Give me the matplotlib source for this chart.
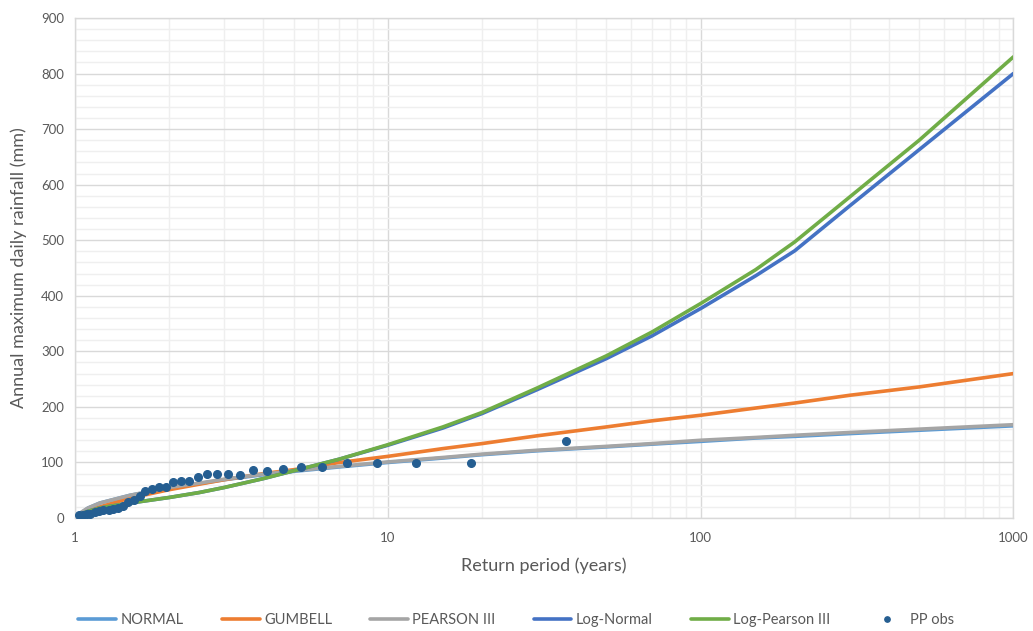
import matplotlib
matplotlib.use('Agg')
import matplotlib.pyplot as plt
from matplotlib.ticker import FixedLocator, FuncFormatter, MultipleLocator
import numpy as np

plt.rcParams['font.family'] = ['Lato', 'DejaVu Sans']

# Return periods (years) where the fitted distributions are evaluated
t_fit = [1.03, 1.05, 1.1, 1.2, 1.5, 2, 2.5, 3, 4, 5, 7, 10, 15, 20, 30,
         50, 70, 100, 150, 200, 300, 500, 1000]

normal = [2, 10, 18, 27, 41, 54, 62, 69, 78, 84, 92, 100, 108, 114, 121,
          128, 133, 138, 144, 147, 152, 158, 166]
gumbell = [None, 4, 13, 20, 36, 51, 61, 69, 80, 87, 100, 111, 125, 134,
           148, 164, 175, 185, 198, 207, 221, 236, 260]
pearson3 = [3, 11, 18, 27, 41, 55, 63, 70, 79, 85, 93, 101, 109, 115, 122,
            129, 134, 140, 145, 149, 154, 160, 168]
log_normal = [5, 8, 12, 18, 27, 37, 46, 55, 71, 85, 106, 131, 162, 188, 231,
              287, 328, 377, 436, 481, 562, 663, 800]
log_pearson3 = [5, 8, 12, 18, 27, 37, 46, 55, 71, 85, 106, 132, 164, 190,
                234, 292, 335, 386, 447, 497, 578, 680, 830]

# Observed annual maxima with their plotting-position return periods
t_obs = [37.0, 18.5, 12.33, 9.25, 7.4, 6.17, 5.29, 4.63, 4.11, 3.7,
         3.36, 3.08, 2.85, 2.64, 2.47, 2.31, 2.18, 2.06, 1.95, 1.85,
         1.76, 1.68, 1.61, 1.54, 1.48, 1.42, 1.37, 1.32, 1.28, 1.23,
         1.19, 1.16, 1.12, 1.09, 1.06, 1.03]
pp_obs = [139, 99, 99, 99, 99, 92, 92, 88, 85, 86,
          77, 79, 79, 79, 74, 67, 67, 65, 55, 55,
          52, 49, 40, 33, 28, 22, 18, 16, 15, 14,
          12, 10, 8, 7, 6, 5]

series = [
    ('NORMAL', normal, '#5B9BD5'),
    ('GUMBELL', gumbell, '#ED7D31'),
    ('PEARSON III', pearson3, '#A5A5A5'),
    ('Log-Normal', log_normal, '#4472C4'),
    ('Log-Pearson III', log_pearson3, '#70AD47'),
]

text_color = '#595959'

fig = plt.figure(figsize=(10.33, 6.31), dpi=100)
ax = fig.add_axes([0.0726, 0.179, 0.9084, 0.7925])

for label, values, color in series:
    vals = np.array([np.nan if v is None else v for v in values], dtype=float)
    ax.plot(t_fit, vals, color=color, linewidth=2.6, label=label,
            solid_capstyle='round', solid_joinstyle='round', zorder=3)

ax.plot(t_obs, pp_obs, linestyle='none', marker='o', markersize=5.5,
        color='#255E91', label='PP obs', zorder=4)

ax.set_xscale('log')
ax.set_xlim(1, 1000)
ax.set_ylim(0, 900)

ax.xaxis.set_major_locator(FixedLocator([1, 10, 100, 1000]))
ax.xaxis.set_major_formatter(FuncFormatter(lambda v, p: '%d' % v))
ax.xaxis.set_minor_locator(FixedLocator(
    [m * 10 ** d for d in range(3) for m in range(2, 10)]))
ax.xaxis.set_minor_formatter(FuncFormatter(lambda v, p: ''))
ax.yaxis.set_major_locator(MultipleLocator(100))
ax.yaxis.set_minor_locator(MultipleLocator(20))

ax.grid(which='major', color='#D9D9D9', linewidth=1.0, zorder=0)
ax.grid(which='minor', color='#EFEFEF', linewidth=1.0, zorder=0)
ax.set_axisbelow(True)

for spine in ax.spines.values():
    spine.set_color('#D9D9D9')
    spine.set_linewidth(1.0)

ax.tick_params(which='both', length=0, colors=text_color, labelsize=9.5)
ax.tick_params(axis='x', pad=10)
ax.tick_params(axis='y', pad=8)

ax.set_xlabel('Return period (years)', fontsize=13, color=text_color,
              labelpad=10)
ax.set_ylabel('Annual maximum daily rainfall (mm)', fontsize=13,
              color=text_color, labelpad=10)

leg = fig.legend(loc='center', bbox_to_anchor=(0.5, 0.018), ncol=6,
                 frameon=False, fontsize=10.5, handlelength=2.6,
                 columnspacing=2.6, handletextpad=0.3, markerscale=0.7)
for txt in leg.get_texts():
    txt.set_color(text_color)

fig.savefig('out.png', dpi=100)
